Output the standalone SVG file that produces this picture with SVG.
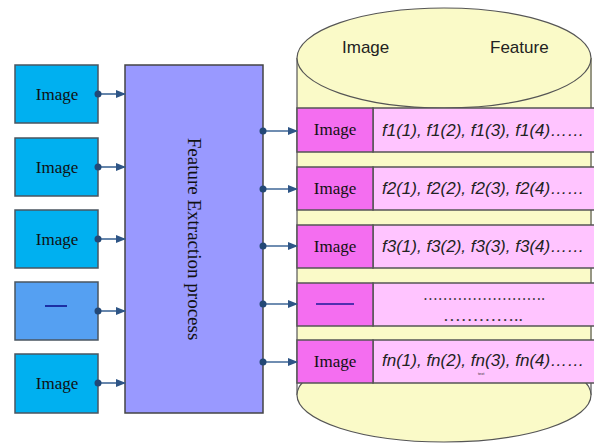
<svg xmlns="http://www.w3.org/2000/svg" width="594" height="443" viewBox="0 0 594 443">
<defs>
<style>
.src{fill:#00B0F0;stroke:#4a5560;stroke-width:1.5}
.lbl{font-family:"Liberation Serif","Times New Roman",serif;font-size:17px;fill:#111;text-anchor:middle}
.cell1{fill:#F46EF0;stroke:#555;stroke-width:1.5}
.cell2{fill:#FFC4FF;stroke:#555;stroke-width:1.5}
.feat{font-family:"Liberation Sans",Arial,sans-serif;font-size:17px;font-style:italic;fill:#222}
.head{font-family:"Liberation Sans",Arial,sans-serif;font-size:17px;fill:#222}
.conn{stroke:#3F6797;stroke-width:1.6;fill:none;marker-end:url(#ah)}
.dot{fill:#234876}
.cyl{fill:#FAFAC8;stroke:#555;stroke-width:1.2}
.dots{font-family:"Liberation Serif",serif;font-size:17px;fill:#333}
</style>
<marker id="ah" markerWidth="10" markerHeight="8" refX="9" refY="4" orient="auto" markerUnits="userSpaceOnUse">
<path d="M0,0 L10,4 L0,8 Z" fill="#2E5586"/>
</marker>
</defs>
<rect width="594" height="443" fill="#fff"/>

<!-- database cylinder -->
<g id="database">
<rect x="297" y="58" width="295" height="325" fill="#FAFAC8"/>
<line x1="297" y1="58" x2="297" y2="395" stroke="#555" stroke-width="1.2"/>
<line x1="591" y1="58" x2="591" y2="395" stroke="#555" stroke-width="1.2"/>
<ellipse class="cyl" cx="444" cy="395" rx="147" ry="47"/>
<ellipse class="cyl" cx="444" cy="58" rx="147" ry="50"/>
<text class="head" x="342" y="53">Image</text>
<text class="head" x="490" y="53">Feature</text>
</g>

<!-- rows -->
<g id="row1">
<rect class="cell2" x="373" y="108" width="230" height="44"/>
<rect class="cell1" x="297" y="108" width="76" height="44"/>
<text class="lbl" x="335" y="135">Image</text>
<text class="feat" x="382" y="136">f1(1), f1(2), f1(3), f1(4)……</text>
</g>
<g id="row2">
<rect class="cell2" x="373" y="167" width="230" height="43"/>
<rect class="cell1" x="297" y="167" width="76" height="43"/>
<text class="lbl" x="335" y="194">Image</text>
<text class="feat" x="382" y="194">f2(1), f2(2), f2(3), f2(4)……</text>
</g>
<g id="row3">
<rect class="cell2" x="373" y="225" width="230" height="43"/>
<rect class="cell1" x="297" y="225" width="76" height="43"/>
<text class="lbl" x="335" y="252">Image</text>
<text class="feat" x="382" y="252">f3(1), f3(2), f3(3), f3(4)……</text>
</g>
<g id="row4">
<rect class="cell2" x="373" y="283" width="230" height="43"/>
<rect class="cell1" x="297" y="283" width="76" height="43"/>
<line x1="316" y1="304" x2="354" y2="304" stroke="#1a1a9a" stroke-width="1.5"/>
<text class="dots" x="423" y="300" textLength="122" lengthAdjust="spacingAndGlyphs">…………………….</text>
<text class="dots" x="443" y="321" textLength="80" lengthAdjust="spacingAndGlyphs">…………..</text>
</g>
<g id="row5">
<rect class="cell2" x="373" y="340" width="230" height="43"/>
<rect class="cell1" x="297" y="340" width="76" height="43"/>
<text class="lbl" x="335" y="367">Image</text>
<text class="feat" x="382" y="366">fn(1), fn(2), fn(3), fn(4)……</text>
<text x="478" y="375" font-family="Liberation Sans,sans-serif" font-size="4" fill="#333">text</text>
</g>

<!-- source images -->
<g id="img1"><rect class="src" x="15" y="65" width="83" height="58"/><text class="lbl" x="57" y="100">Image</text></g>
<g id="img2"><rect class="src" x="15" y="138" width="83" height="58"/><text class="lbl" x="57" y="173">Image</text></g>
<g id="img3"><rect class="src" x="15" y="210" width="83" height="58"/><text class="lbl" x="57" y="245">Image</text></g>
<g id="img4"><rect class="src" x="15" y="282" width="83" height="58" style="fill:#55A0F2"/><line x1="45" y1="306" x2="67" y2="306" stroke="#0a0a8a" stroke-width="1.5"/></g>
<g id="img5"><rect class="src" x="15" y="354" width="83" height="59"/><text class="lbl" x="57" y="389">Image</text></g>

<!-- feature extraction -->
<g id="fep">
<rect x="125" y="65" width="138" height="348" fill="#9999FF" stroke="#444" stroke-width="1.5"/>
<text class="lbl" transform="translate(188,239) rotate(90)" style="font-size:19px">Feature Extraction process</text>
</g>

<!-- connectors -->
<g id="connectors">
<line class="conn" x1="98" y1="94" x2="125" y2="94"/>
<line class="conn" x1="98" y1="167" x2="125" y2="167"/>
<line class="conn" x1="98" y1="239" x2="125" y2="239"/>
<line class="conn" x1="98" y1="311" x2="125" y2="311"/>
<line class="conn" x1="98" y1="383" x2="125" y2="383"/>
<line class="conn" x1="263" y1="131" x2="297" y2="131"/>
<line class="conn" x1="263" y1="189" x2="297" y2="189"/>
<line class="conn" x1="263" y1="246" x2="297" y2="246"/>
<line class="conn" x1="263" y1="304" x2="297" y2="304"/>
<line class="conn" x1="263" y1="362" x2="297" y2="362"/>
<circle class="dot" cx="98" cy="94" r="3.5"/>
<circle class="dot" cx="98" cy="167" r="3.5"/>
<circle class="dot" cx="98" cy="239" r="3.5"/>
<circle class="dot" cx="98" cy="311" r="3.5"/>
<circle class="dot" cx="98" cy="383" r="3.5"/>
<circle class="dot" cx="263" cy="131" r="3.5"/>
<circle class="dot" cx="263" cy="189" r="3.5"/>
<circle class="dot" cx="263" cy="246" r="3.5"/>
<circle class="dot" cx="263" cy="304" r="3.5"/>
<circle class="dot" cx="263" cy="362" r="3.5"/>
</g>
</svg>
